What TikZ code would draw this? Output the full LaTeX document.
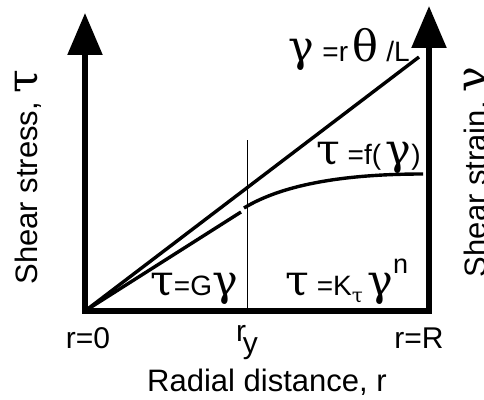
\documentclass[tikz,border=0pt]{standalone}
\usepackage{fontspec}
\setmainfont{Liberation Sans}
\newfontfamily\grk{DejaVu Serif}
\usepackage{tikz}
\usetikzlibrary{arrows.meta,positioning,calc}
\newcommand{\gk}[1]{{\grk\fontsize{43}{45}\selectfont #1}}
\newcommand{\gsub}[1]{\raisebox{-7pt}{\grk\fontsize{20}{22}\selectfont #1}}
\newcommand{\lsup}[1]{\raisebox{22pt}{\fontsize{27}{28}\selectfont #1}}

\begin{document}
\begin{tikzpicture}[x=1pt,y=1pt,>=Latex,
    axisline/.style={line width=5.5pt,line join=miter,
      {Triangle[width=34pt,length=42pt]}-{Triangle[width=34pt,length=42pt]}},
    profile/.style={line width=3.4pt},
    eqn/.style={inner sep=0pt,font=\fontsize{28}{32}\selectfont},
    tick/.style={inner sep=0pt,font=\fontsize{30}{34}\selectfont},
    title/.style={inner sep=0pt,font=\fontsize{31}{36}\selectfont}]
  \clip (0,0) rectangle (484,399);
  % Axes.
  \coordinate (O) at (85,88);
  \coordinate (ytau) at (85,386);
  \coordinate (Rfoot) at (429,88);
  \coordinate (ygam) at (429,393);
  \draw[axisline] (ytau) -- (O) -- (Rfoot) -- (ygam);
  % Yield radius.
  \coordinate (ry) at (247,88);
  \coordinate (rytop) at (247,259);
  \draw[line width=0.8pt] (ry) -- (rytop);
  % Strain line and stress profile.
  \coordinate (strainend) at (419,342);
  \coordinate (elastend) at (241,187);
  \coordinate (plastbeg) at (244,191);
  \coordinate (plastend) at (423,225);
  \draw[profile] (O) -- (strainend);
  \draw[profile] (O) -- (elastend);
  \draw[profile] (plastbeg) .. controls (285,216) and (350,225) .. (plastend);
  % Curve labels.
  \node[eqn,anchor=base east] (strainlbl) at (410,337)
        {\gk{γ} =r\,\gk{θ} /L};
  \node[eqn,anchor=base east] (funclbl) at (421,234)
        {\gk{τ} =f(\,\gk{γ})};
  \node[eqn,anchor=base west] (elastlbl) at (150,104)
        {\gk{τ}=G\gk{γ}};
  \node[eqn,anchor=base west] (plastlbl) at (285,104)
        {\gk{τ} =K\gsub{τ}\,\gk{γ}\lsup{n}};
  % Axis labels.
  \node[tick,anchor=base] (r0) at (88,51) {r=0};
  \node[tick,anchor=base] (rR) at (419,51) {r=R};
  \node[tick,anchor=base] (rylbl) at (247,58)
        {r\kern-3pt\raisebox{-12pt}{y}};
  \node[title,anchor=base] (xtitle) at (267,8) {Radial distance, r};
  \node[title,anchor=base,rotate=90] (tautitle) at (37,222)
        {Shear stress, \gk{τ}};
  \node[title,anchor=base,rotate=90] (gamtitle) at (486,227)
        {Shear strain, \gk{γ}};
\end{tikzpicture}
\end{document}
